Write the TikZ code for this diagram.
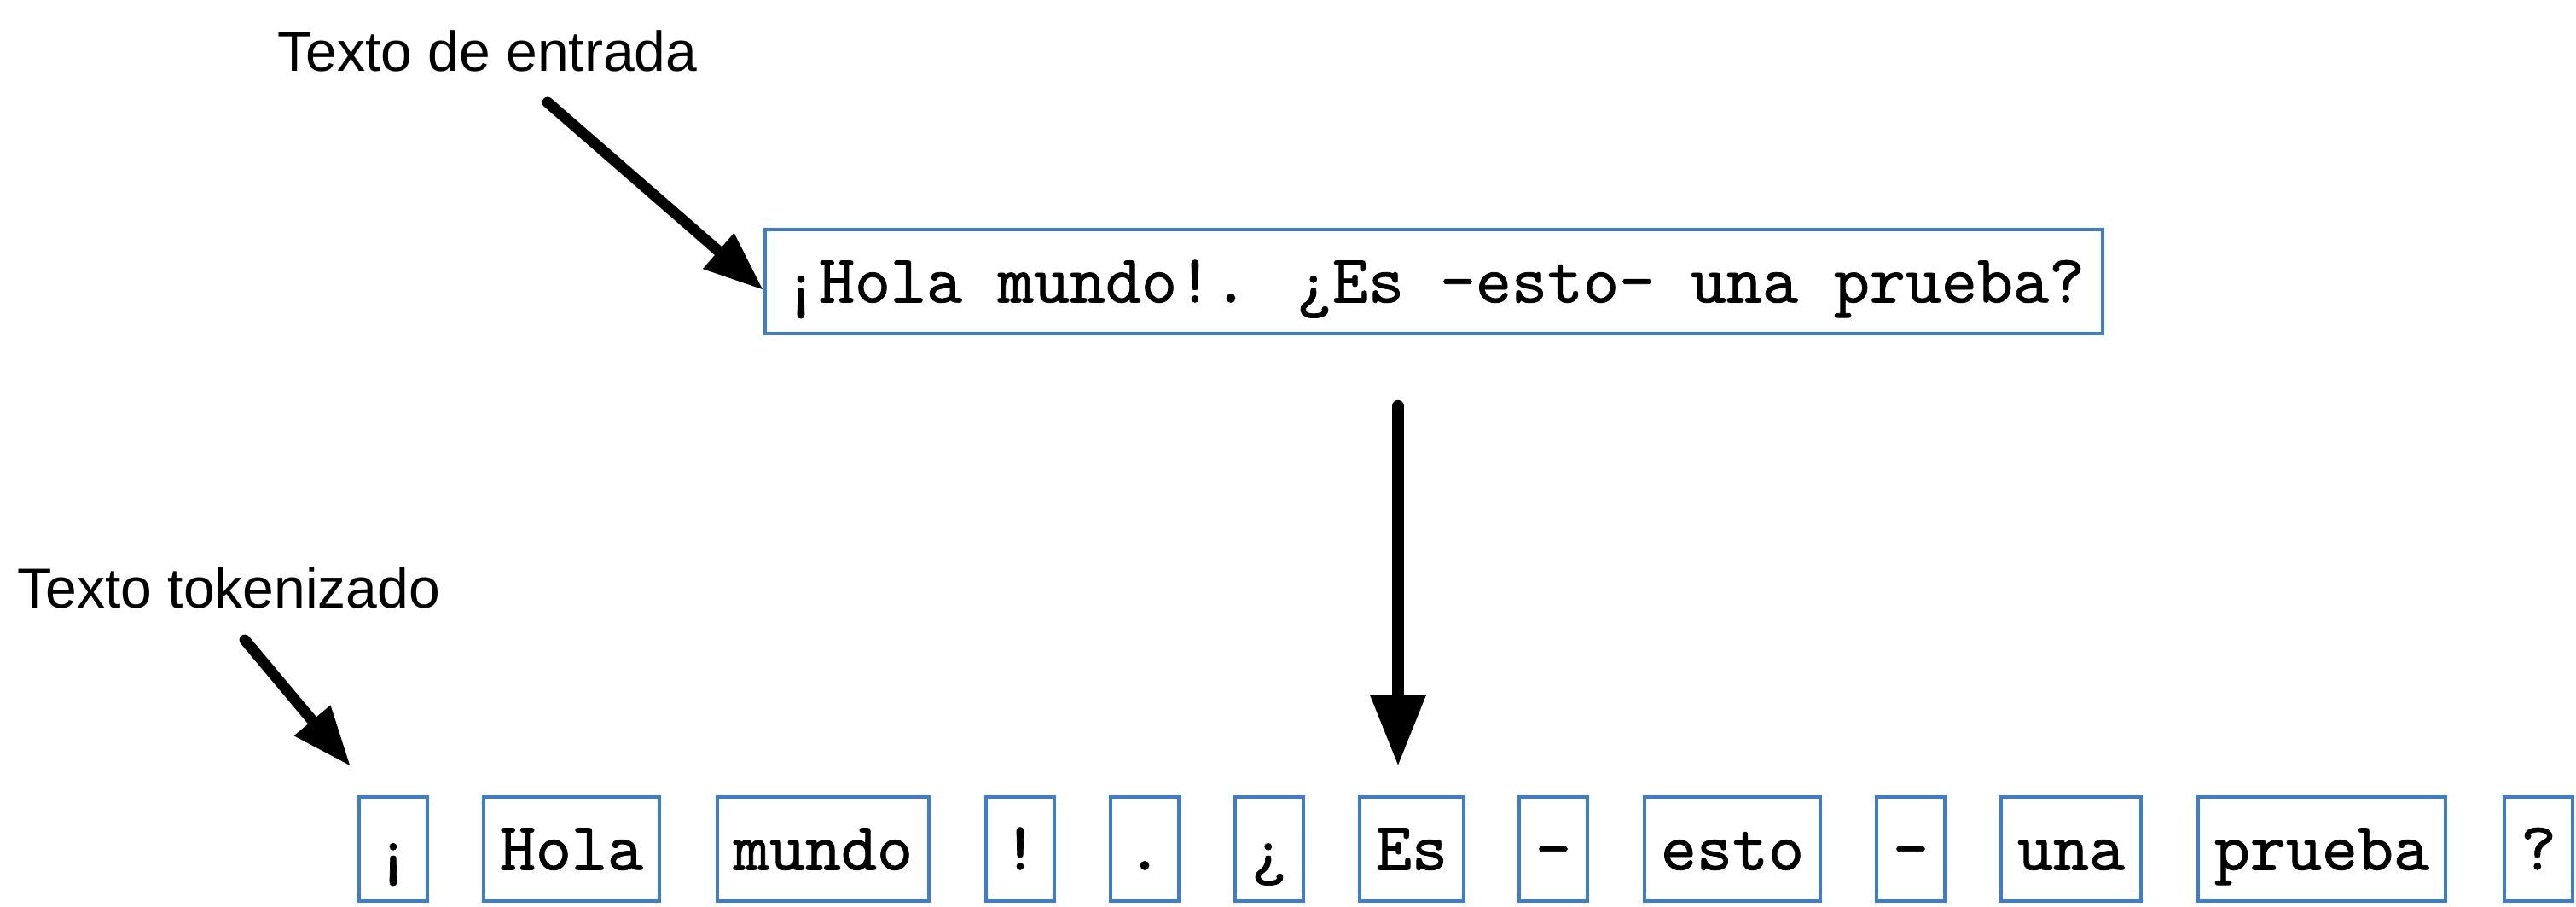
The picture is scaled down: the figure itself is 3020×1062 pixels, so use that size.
\documentclass[tikz,border=0pt]{standalone}
\usepackage{fontspec}
\setmainfont{Liberation Sans}
\newfontfamily\tokfont{lmmono10-regular.otf}[FakeBold=0.9]
\usetikzlibrary{arrows.meta}
\definecolor{boxblue}{RGB}{60,125,212}
\begin{document}
\begin{tikzpicture}[x=0.25pt,y=-0.25pt,
  tok/.style={draw=boxblue, line width=1pt, anchor=west, inner xsep=4.75pt, inner ysep=0pt,
    minimum height=30.5pt, font=\fontsize{20pt}{24pt}\tokfont, text height=12.2pt, text depth=0pt},
  lbl/.style={font=\fontsize{16.5pt}{20pt}\selectfont, inner sep=0pt, anchor=base west},
  bigarrow/.style={line width=3.6pt, line cap=round, -{Triangle[length=21pt,width=15.5pt]}},
  diagarrow/.style={line width=3.2pt, line cap=round, -{Triangle[length=17.5pt,width=13pt]}}]
\useasboundingbox (0,0) rectangle (3020,1062);
% labels
\node[lbl] (lin) at (325,83) {Texto de entrada};
\node[lbl] (ltok) at (20,712) {Texto tokenizado};
% input box
\node[tok, anchor=center, minimum width=392pt] (input) at (1681,330) {¡Hola mundo!. ¿Es -esto- una prueba?};
% tokens
\node[tok] (t1) at (419,995) {¡};
\node[tok] (t2) at (565,995) {Hola};
\node[tok] (t3) at (839,995) {mundo};
\node[tok] (t4) at (1154,995) {!};
\node[tok] (t5) at (1300,995) {.};
\node[tok] (t6) at (1446,995) {¿};
\node[tok] (t7) at (1592,995) {Es};
\node[tok] (t8) at (1779,995) {-};
\node[tok] (t9) at (1926,995) {esto};
\node[tok] (t10) at (2198,995) {-};
\node[tok] (t11) at (2344,995) {una};
\node[tok] (t12) at (2575,995) {prueba};
\node[tok] (t13) at (2934,995) {?};
% arrows
\coordinate (a1s) at (642,120);
\coordinate (a1e) at (895,340);
\coordinate (a2s) at (287,750);
\coordinate (a2e) at (411,898);
\coordinate (a3s) at (1639,476);
\coordinate (a3e) at (1639,898);
\draw[diagarrow] (a1s) -- (a1e);
\draw[diagarrow] (a2s) -- (a2e);
\draw[bigarrow] (a3s) -- (a3e);
\end{tikzpicture}
\end{document}
